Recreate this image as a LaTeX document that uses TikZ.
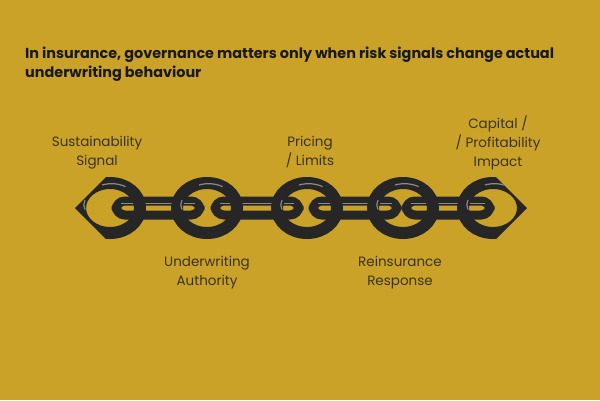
\documentclass[tikz,border=0pt]{standalone}
\usepackage{fontspec}
\setmainfont{Poppins}
\definecolor{bg}{HTML}{C9A227}
\definecolor{txt}{HTML}{3A3326}
\definecolor{steel}{HTML}{262626}
\definecolor{shine}{HTML}{8A8A8A}
\tikzset{
  lbl/.style={align=center,text=txt,font=\fontsize{13.5}{19}\selectfont,inner sep=0pt},
  face/.style={draw=steel,line width=12pt},
  faceshine/.style={draw=shine,line width=1.2pt},
  side/.style={draw=steel,line width=9pt,rounded corners=9pt},
  sideshine/.style={draw=shine,line width=1pt}
}
\begin{document}
\begin{tikzpicture}[x=1pt,y=-1pt]
\fill[bg] (0,0) rectangle (600,400);
\node[anchor=west,text=black!90,font=\bfseries\fontsize{14.4}{19}\selectfont,align=left,inner sep=0pt] (title) at (25,64.5)
 {In insurance, governance matters only when risk signals change actual\\underwriting behaviour};
\begin{scope}
\clip (75,208) -- (111,172) -- (491,172) -- (527,208) -- (491,244) -- (111,244) -- cycle;
\foreach \x in {158,257,355,448}{
  \draw[side] (\x-42,201) rectangle (\x+42,215);
  \draw[sideshine] (\x-37,203) -- (\x+37,203);
}
\foreach \x in {110,207,307,403,493}{
  \draw[face] (\x,208) ellipse (30 and 25);
  \draw[faceshine] (\x-8,185) arc (250:300:28 and 22);
  \draw[faceshine] (\x-25,200) arc (200:160:20 and 14);
}
\end{scope}
\node[lbl] (s1) at (97,152.5) {Sustainability\\Signal};
\node[lbl] (s2) at (207,272.5) {Underwriting\\Authority};
\node[lbl] (s3) at (310,152.5) {Pricing\\/ Limits};
\node[lbl] (s4) at (400,272.5) {Reinsurance\\Response};
\node[lbl] (s5) at (498,143) {Capital /\\/ Profitability\\Impact};
\end{tikzpicture}
\end{document}
